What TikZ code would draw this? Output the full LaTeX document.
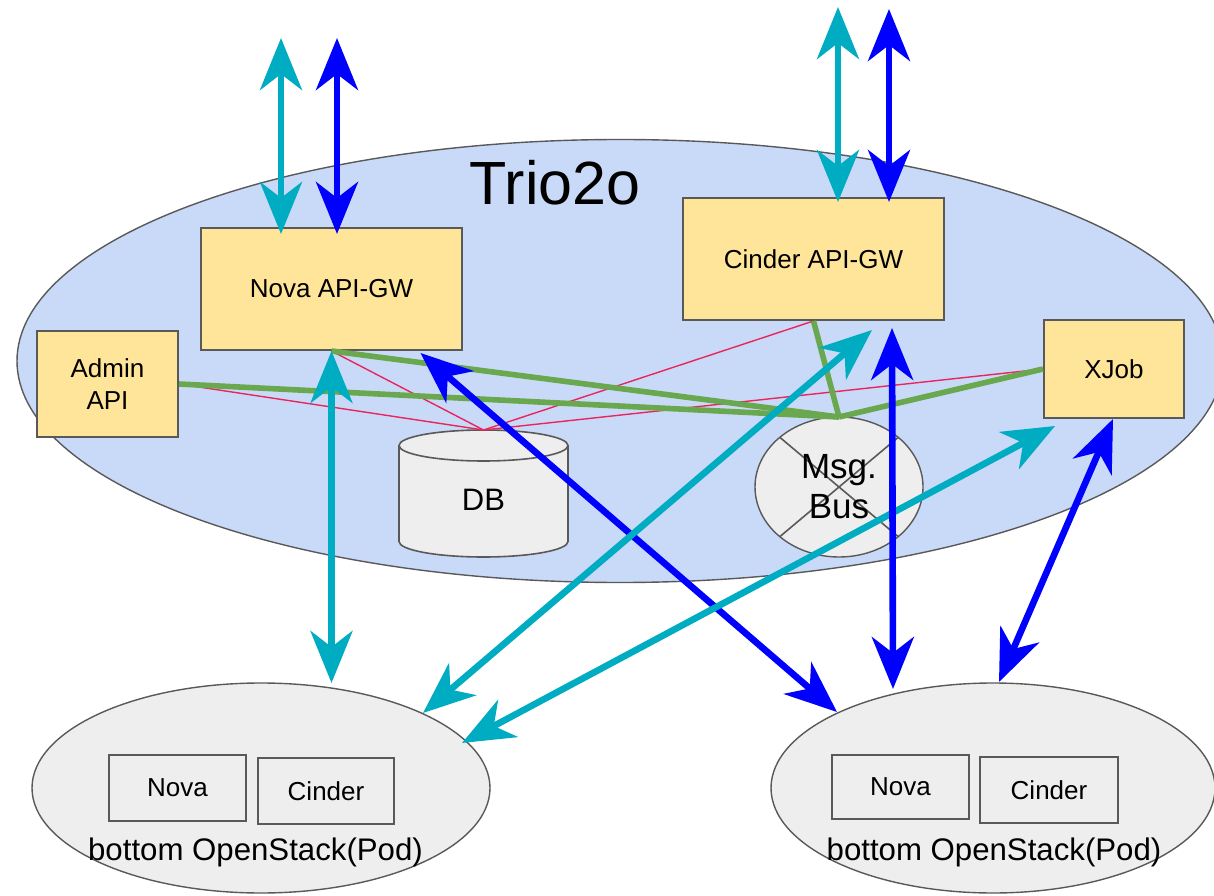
\documentclass[tikz,border=0pt]{standalone}
\usepackage{fontspec}
\setmainfont{Liberation Sans}
\usetikzlibrary{arrows.meta,shapes.geometric,calc}
\definecolor{trioblue}{HTML}{C9DAF8}
\definecolor{boxyellow}{HTML}{FFE599}
\definecolor{podgray}{HTML}{EEEEEE}
\definecolor{cyanarr}{HTML}{00ACC1}
\definecolor{bluearr}{HTML}{0000FF}
\definecolor{greenln}{HTML}{6AA84F}
\definecolor{redln}{HTML}{E8265E}
\definecolor{edgegray}{HTML}{595959}
\begin{document}
\begin{tikzpicture}[x=0.5pt,y=0.5pt,
  box/.style={draw=edgegray, line width=1pt, fill=boxyellow, inner sep=0pt, font=\fontsize{13}{16}\selectfont, align=center},
  podbox/.style={draw=edgegray, line width=1pt, inner sep=0pt, font=\fontsize{13}{16}\selectfont},
  oval/.style={ellipse, draw=edgegray, line width=0.7pt, inner sep=0pt, outer sep=0pt},
  arr/.style={line width=3.3pt, {Stealth[length=26pt,width=21pt,inset=8pt]}-{Stealth[length=26pt,width=21pt,inset=8pt]}},
  cyanline/.style={arr, draw=cyanarr},
  blueline/.style={arr, draw=bluearr},
  greenlink/.style={draw=greenln, line width=2.8pt},
  redlink/.style={draw=redln, line width=0.7pt}]
\useasboundingbox (0,0) rectangle (1214,895);

% Trio2o region
\node[oval, fill=trioblue, minimum width=603pt, minimum height=221.5pt] (trio) at (620,534) {};
\node[font=\fontsize{30.5}{36}\selectfont, anchor=base] (triotitle) at (555,690) {Trio2o};

% boxes
\node[box, minimum width=130.5pt, minimum height=61pt] (nova) at (331.5,606) {Nova API-GW};
\node[box, minimum width=130.5pt, minimum height=61pt] (cinder) at (813.5,636) {Cinder API-GW};
\node[box, minimum width=70.5pt, minimum height=53pt] (admin) at (107.5,511) {Admin\\API};
\node[box, minimum width=70pt, minimum height=49pt] (xjob) at (1114,526) {XJob};

% DB cylinder
\path[draw=edgegray, line width=0.8pt, fill=podgray] (399,449.5) -- (399,353.5)
  arc[start angle=180, end angle=360, x radius=42.25pt, y radius=7.75pt] -- (568,449.5)
  arc[start angle=0, end angle=180, x radius=42.25pt, y radius=7.75pt] -- cycle;
\draw[edgegray, line width=0.8pt] (399,449.5) arc[start angle=180, end angle=360, x radius=42.25pt, y radius=7.75pt];
\node[font=\fontsize{15.5}{18}\selectfont] (db) at (483.5,395) {DB};
\coordinate (dbtop) at (483.5,465);

% Message bus
\node[oval, fill=podgray, minimum width=84pt, minimum height=70pt] (msgbus) at (839,408) {};
\draw[edgegray, line width=0.8pt] (msgbus.140) -- (msgbus.-40) (msgbus.40) -- (msgbus.220);
\node[font=\fontsize{17.5}{20}\selectfont, align=center] (msgtext) at (msgbus.center) {Msg.\\Bus};

% Pods
\node[oval, fill=podgray, minimum width=229pt, minimum height=105pt] (lpod) at (261,107) {};
\node[oval, fill=podgray, minimum width=222pt, minimum height=105pt] (rpod) at (993,107) {};
\node[podbox, minimum width=68.5pt, minimum height=33pt] (lnova) at (177.5,107) {Nova};
\node[podbox, minimum width=68pt, minimum height=33pt] (lcinder) at (326,104) {Cinder};
\node[podbox, minimum width=68.5pt, minimum height=32pt] (rnova) at (900.5,108) {Nova};
\node[podbox, minimum width=69pt, minimum height=33pt] (rcinder) at (1049,105) {Cinder};
\node[font=\fontsize{15.6}{18}\selectfont, anchor=base] (llabel) at (255.5,35) {bottom OpenStack(Pod)};
\node[font=\fontsize{15.6}{18}\selectfont, anchor=base] (rlabel) at (994,35) {bottom OpenStack(Pod)};

% DB links
\draw[redlink] (nova.south) -- (dbtop);
\draw[redlink] (admin.east) -- (dbtop);
\draw[redlink] (cinder.south) -- (dbtop);
\draw[redlink] (xjob.west) -- (dbtop);

% bus links
\draw[greenlink] (nova.south) -- (msgbus.north);
\draw[greenlink] (admin.east) -- (msgbus.north);
\draw[greenlink] (cinder.south) -- (msgbus.north);
\draw[greenlink] (xjob.west) -- (msgbus.north);

% external arrows
\coordinate (ctl) at (281,857);
\coordinate (btl) at (337,857);
\coordinate (ctr) at (838,888);
\coordinate (btr) at (889,886);
\draw[cyanline] (ctl) -- ([shift={(-50.5,-7)}]nova.north);
\draw[blueline] (btl) -- ([shift={(5.5,-7)}]nova.north);
\draw[cyanline] (ctr) -- ([shift={(24.5,-5)}]cinder.north);
\draw[blueline] (btr) -- ([shift={(75.5,-5)}]cinder.north);

% pod arrows
\draw[cyanline] (nova.south) -- (nova.south |- lpod.north);
\draw[blueline] ([shift={(89,-2)}]nova.south) -- ([shift={(-156,76)}]rpod.center);
\draw[cyanline] ([shift={(162,75)}]lpod.center) -- ([shift={(58.5,-9)}]cinder.south);
\draw[cyanline] ([shift={(201,45)}]lpod.center) -- ([shift={(-59,-7)}]xjob.south);
\draw[blueline] ([shift={(78.5,-7)}]cinder.south) -- ([shift={(-100,99)}]rpod.center);
\draw[blueline] ([shift={(-1,0)}]xjob.south) -- ([shift={(6,106)}]rpod.center);
\end{tikzpicture}
\end{document}
